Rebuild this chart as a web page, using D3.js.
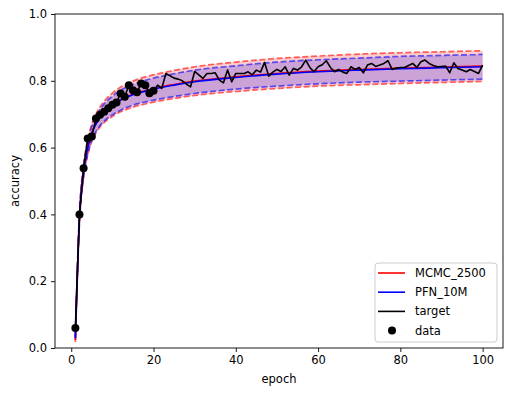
<!DOCTYPE html>
<html>
<head>
<meta charset="utf-8">
<script src="https://cdn.jsdelivr.net/npm/d3@7"></script>
<style>
  body { margin: 0; background: #fff; }
  text { font-family: "DejaVu Sans", sans-serif; }
</style>
</head>
<body>
<script>
// Epochs at which the model curves were sampled
const curveEpochs = [1, 2, 3, 4, 5, 6, 7, 8, 10, 12, 15, 20, 25, 30, 40, 50, 60, 70, 80, 90, 100];

// MCMC_2500 mean and band
const mcmcMean = [0.025, 0.39, 0.53, 0.60, 0.645, 0.672, 0.692, 0.707, 0.728, 0.744, 0.760, 0.777, 0.789, 0.799, 0.812, 0.822, 0.829, 0.834, 0.838, 0.841, 0.844];
const mcmcHi = [0.033, 0.405, 0.55, 0.623, 0.671, 0.700, 0.722, 0.739, 0.763, 0.781, 0.799, 0.818, 0.831, 0.842, 0.856, 0.867, 0.874, 0.880, 0.884, 0.887, 0.890];
const mcmcLo = [0.017, 0.375, 0.51, 0.577, 0.619, 0.644, 0.662, 0.675, 0.693, 0.707, 0.721, 0.736, 0.747, 0.756, 0.768, 0.777, 0.784, 0.788, 0.792, 0.795, 0.798];

// PFN_10M mean and band
const pfnMean = [0.03, 0.39, 0.528, 0.598, 0.643, 0.67, 0.69, 0.705, 0.726, 0.742, 0.758, 0.775, 0.787, 0.797, 0.81, 0.82, 0.827, 0.832, 0.836, 0.839, 0.842];
const pfnHi = [0.036, 0.402, 0.544, 0.616, 0.664, 0.692, 0.714, 0.731, 0.754, 0.772, 0.789, 0.808, 0.821, 0.832, 0.845, 0.856, 0.863, 0.868, 0.873, 0.876, 0.879];
const pfnLo = [0.024, 0.378, 0.512, 0.58, 0.622, 0.648, 0.666, 0.679, 0.698, 0.712, 0.727, 0.742, 0.753, 0.762, 0.775, 0.784, 0.791, 0.796, 0.799, 0.802, 0.805];

// Observed points (first 20 epochs)
const dataValues = [0.06, 0.40, 0.538, 0.627, 0.633, 0.687, 0.698, 0.707, 0.718, 0.728, 0.735, 0.762, 0.752, 0.787, 0.772, 0.766, 0.792, 0.787, 0.763, 0.77];

// Target curve, epochs 21..100 (the first 20 are the observed points)
const targetTail = [
  0.787, 0.777, 0.822, 0.815, 0.808, 0.805, 0.80, 0.79, 0.782, 0.828,
  0.818, 0.807, 0.822, 0.822, 0.824, 0.802, 0.794, 0.832, 0.797, 0.822,
  0.822, 0.822, 0.827, 0.818, 0.832, 0.826, 0.855, 0.814, 0.826, 0.834,
  0.828, 0.842, 0.817, 0.837, 0.832, 0.842, 0.862, 0.84, 0.827, 0.842,
  0.848, 0.86, 0.84, 0.827, 0.834, 0.826, 0.822, 0.842, 0.834, 0.84,
  0.824, 0.847, 0.852, 0.843, 0.847, 0.852, 0.86, 0.834, 0.838, 0.84,
  0.84, 0.846, 0.852, 0.84, 0.857, 0.862, 0.852, 0.846, 0.842, 0.843,
  0.844, 0.824, 0.854, 0.837, 0.832, 0.827, 0.834, 0.828, 0.822, 0.847
];

const xTicks = [0, 20, 40, 60, 80, 100];
const yTicks = [0.0, 0.2, 0.4, 0.6, 0.8, 1.0];

const W = 512, H = 396;
const plot = { left: 55, right: 503, top: 14, bottom: 348 };

const svg = d3.select('body').append('svg')
  .attr('width', W)
  .attr('height', H);

const x = d3.scaleLinear().domain([-3.95, 104.95]).range([plot.left, plot.right]);
const y = d3.scaleLinear().domain([0, 1]).range([plot.bottom, plot.top]);

/**
 * Draw a shaded band plus its dashed edges
 */
function drawBand(lo, hi, color) {
  const pts = curveEpochs.map((e, i) => ({ e, lo: lo[i], hi: hi[i] }));
  svg.append('path')
    .datum(pts)
    .attr('fill', color)
    .attr('fill-opacity', 0.2)
    .attr('d', d3.area().curve(d3.curveMonotoneX)
      .x(d => x(d.e)).y0(d => y(d.lo)).y1(d => y(d.hi)));
}

function drawDashed(vals, color) {
  svg.append('path')
    .datum(curveEpochs.map((e, i) => [e, vals[i]]))
    .attr('fill', 'none')
    .attr('stroke', color)
    .attr('stroke-opacity', 0.6)
    .attr('stroke-width', 1.7)
    .attr('stroke-dasharray', '6,2.6')
    .attr('d', d3.line().curve(d3.curveMonotoneX).x(d => x(d[0])).y(d => y(d[1])));
}

function drawLine(data, color, curve) {
  svg.append('path')
    .datum(data)
    .attr('fill', 'none')
    .attr('stroke', color)
    .attr('stroke-width', 1.6)
    .attr('stroke-linejoin', 'round')
    .attr('d', d3.line().curve(curve).x(d => x(d[0])).y(d => y(d[1])));
}

// bands
drawBand(mcmcLo, mcmcHi, 'red');
drawBand(pfnLo, pfnHi, 'blue');
drawDashed(mcmcHi, 'red');
drawDashed(mcmcLo, 'red');
drawDashed(pfnHi, 'blue');
drawDashed(pfnLo, 'blue');

// means
drawLine(curveEpochs.map((e, i) => [e, mcmcMean[i]]), 'red', d3.curveMonotoneX);
drawLine(curveEpochs.map((e, i) => [e, pfnMean[i]]), 'blue', d3.curveMonotoneX);

// target
const target = dataValues.concat(targetTail).map((v, i) => [i + 1, v]);
drawLine(target, 'black', d3.curveLinear);

// data dots
svg.append('g').selectAll('circle')
  .data(dataValues.map((v, i) => [i + 1, v]))
  .enter().append('circle')
  .attr('cx', d => x(d[0]))
  .attr('cy', d => y(d[1]))
  .attr('r', 4)
  .attr('fill', 'black');

// axes
const xAxis = svg.append('g')
  .attr('transform', `translate(0,${plot.bottom})`)
  .call(d3.axisBottom(x).tickValues(xTicks).tickSize(4).tickPadding(4).tickFormat(d3.format('d')));
const yAxis = svg.append('g')
  .attr('transform', `translate(${plot.left},0)`)
  .call(d3.axisLeft(y).tickValues(yTicks).tickSize(4).tickPadding(4).tickFormat(d3.format('.1f')));

[xAxis, yAxis].forEach(g => {
  g.select('.domain').remove();
  g.selectAll('text').attr('font-size', 11.5).attr('fill', '#000')
    .style('font-family', '"DejaVu Sans", sans-serif');
  g.selectAll('line').attr('stroke', '#000').attr('stroke-width', 0.9);
});

// frame
svg.append('rect')
  .attr('x', plot.left).attr('y', plot.top)
  .attr('width', plot.right - plot.left).attr('height', plot.bottom - plot.top)
  .attr('fill', 'none').attr('stroke', '#000').attr('stroke-width', 0.9);

// axis titles
svg.append('text')
  .attr('x', (plot.left + plot.right) / 2).attr('y', 383)
  .attr('text-anchor', 'middle').attr('font-size', 11.5)
  .text('epoch');
svg.append('text')
  .attr('transform', `translate(19,${(plot.top + plot.bottom) / 2}) rotate(-90)`)
  .attr('text-anchor', 'middle').attr('font-size', 11.5)
  .text('accuracy');

// legend
const legendItems = [
  { label: 'MCMC_2500', color: 'red', kind: 'line' },
  { label: 'PFN_10M', color: 'blue', kind: 'line' },
  { label: 'target', color: 'black', kind: 'line' },
  { label: 'data', color: 'black', kind: 'dot' }
];
const legend = svg.append('g').attr('transform', 'translate(375,263)');
legend.append('rect')
  .attr('width', 122).attr('height', 79).attr('rx', 3)
  .attr('fill', 'white').attr('fill-opacity', 0.8)
  .attr('stroke', '#ccc').attr('stroke-width', 1);
legendItems.forEach((item, i) => {
  const ly = 10 + i * 19.2;
  if (item.kind === 'line') {
    legend.append('line')
      .attr('x1', 3).attr('x2', 30).attr('y1', ly).attr('y2', ly)
      .attr('stroke', item.color).attr('stroke-width', 1.6);
  } else {
    legend.append('circle').attr('cx', 17).attr('cy', ly).attr('r', 4).attr('fill', item.color);
  }
  legend.append('text')
    .attr('x', 40).attr('y', ly + 4).attr('font-size', 11.5)
    .text(item.label);
});
</script>
</body>
</html>
